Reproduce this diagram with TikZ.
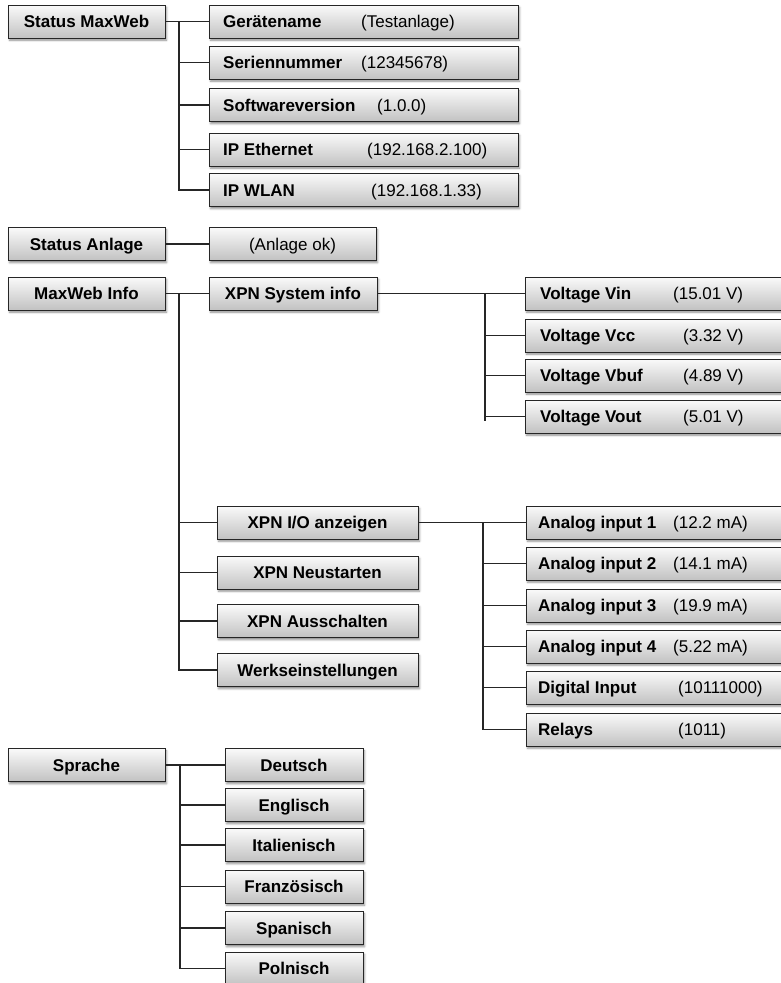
\documentclass[tikz,border=0pt]{standalone}
\usepackage{fontspec}
\setmainfont{Liberation Sans}
\usetikzlibrary{shadows,shadows.blur}
\tikzset{
  box/.style={draw=black!85, line width=0.9pt, top color=black!2, bottom color=black!24,
    blur shadow={shadow xshift=1.5pt, shadow yshift=-2.2pt, shadow blur radius=2pt, shadow opacity=45},
    minimum height=33pt, inner sep=0pt, text height=12.2pt, text depth=0pt,
    font=\bfseries\fontsize{17}{20}\selectfont},
  lbl/.style={anchor=base west, inner sep=0pt, font=\bfseries\fontsize{17}{20}\selectfont},
  val/.style={anchor=base west, inner sep=0pt, font=\fontsize{17}{20}\selectfont},
  conn/.style={draw=black!85, line width=1.2pt},
}
\begin{document}
\begin{tikzpicture}[x=1pt,y=-1pt]
\useasboundingbox (0,0) rectangle (781,983);
\clip (0,0) rectangle (781,983);

% left column
\node[box, minimum width=157pt] (sm) at (86.5,21.5) {Status MaxWeb};
\node[box, minimum width=157pt] (sa) at (86.5,244) {Status Anlage};
\node[box, minimum width=157pt] (mi) at (86.5,293.5) {MaxWeb Info};
\node[box, minimum width=157pt] (sp) at (86.5,765) {Sprache};

% Status MaxWeb children
\node[box, minimum width=309pt] (gn) at (363.5,21.5) {};
\node[box, minimum width=309pt] (sn) at (363.5,62.5) {};
\node[box, minimum width=309pt] (sw) at (363.5,105) {};
\node[box, minimum width=309pt] (ie) at (363.5,149.5) {};
\node[box, minimum width=309pt] (iw) at (363.5,190) {};
\node[lbl] (gnl) at (223,27.6) {Gerätename};
\node[val] (gnv) at (361,27.6) {(Testanlage)};
\node[lbl] (snl) at (223,68.6) {Seriennummer};
\node[val] (snv) at (361,68.6) {(12345678)};
\node[lbl] (swl) at (223,111.1) {Softwareversion};
\node[val] (swv) at (377,111.1) {(1.0.0)};
\node[lbl] (iel) at (223,155.6) {IP Ethernet};
\node[val] (iev) at (367,155.6) {(192.168.2.100)};
\node[lbl] (iwl) at (223,196.1) {IP WLAN};
\node[val] (iwv) at (371,196.1) {(192.168.1.33)};

% Status Anlage child
\node[box, minimum width=167pt, font=\fontsize{17}{20}\selectfont] (ao) at (292.5,244) {(Anlage ok)};

% MaxWeb Info children
\node[box, minimum width=168pt] (xs) at (293,293.5) {XPN System info};
\node[box, minimum width=201pt] (xio) at (317.5,522.5) {XPN I/O anzeigen};
\node[box, minimum width=201pt] (xn) at (317.5,572.5) {XPN Neustarten};
\node[box, minimum width=201pt] (xa) at (317.5,621) {XPN Ausschalten};
\node[box, minimum width=201pt] (xw) at (317.5,670) {Werkseinstellungen};

% Voltages
\node[box, minimum width=285pt] (vin) at (667.5,293.5) {};
\node[box, minimum width=285pt] (vcc) at (667.5,335.5) {};
\node[box, minimum width=285pt] (vbuf) at (667.5,375.5) {};
\node[box, minimum width=285pt] (vout) at (667.5,416.5) {};
\node[lbl] (vinl) at (540,299.6) {Voltage Vin};
\node[val] (vinv) at (673,299.6) {(15.01 V)};
\node[lbl] (vccl) at (540,341.6) {Voltage Vcc};
\node[val] (vccv) at (683,341.6) {(3.32 V)};
\node[lbl] (vbufl) at (540,381.6) {Voltage Vbuf};
\node[val] (vbufv) at (683,381.6) {(4.89 V)};
\node[lbl] (voutl) at (540,422.6) {Voltage Vout};
\node[val] (voutv) at (683,422.6) {(5.01 V)};

% I/O
\node[box, minimum width=284pt] (a1) at (668,522.5) {};
\node[box, minimum width=284pt] (a2) at (668,563.5) {};
\node[box, minimum width=284pt] (a3) at (668,605.5) {};
\node[box, minimum width=284pt] (a4) at (668,646.5) {};
\node[box, minimum width=284pt] (di) at (668,687.5) {};
\node[box, minimum width=284pt] (re) at (668,729.5) {};
\node[lbl] (a1l) at (538,528.6) {Analog input 1};
\node[val] (a1v) at (673,528.6) {(12.2 mA)};
\node[lbl] (a2l) at (538,569.6) {Analog input 2};
\node[val] (a2v) at (673,569.6) {(14.1 mA)};
\node[lbl] (a3l) at (538,611.6) {Analog input 3};
\node[val] (a3v) at (673,611.6) {(19.9 mA)};
\node[lbl] (a4l) at (538,652.6) {Analog input 4};
\node[val] (a4v) at (673,652.6) {(5.22 mA)};
\node[lbl] (dil) at (538,693.6) {Digital Input};
\node[val] (div) at (678,693.6) {(10111000)};
\node[lbl] (rel) at (538,735.6) {Relays};
\node[val] (rev) at (678,735.6) {(1011)};

% Sprache children
\node[box, minimum width=138pt] (de) at (294,765) {Deutsch};
\node[box, minimum width=138pt] (en) at (294,805) {Englisch};
\node[box, minimum width=138pt] (it) at (294,845) {Italienisch};
\node[box, minimum width=138pt] (fr) at (294,886.5) {Französisch};
\node[box, minimum width=138pt] (es) at (294,928) {Spanisch};
\node[box, minimum width=138pt] (pl) at (294,968.5) {Polnisch};

% connectors: Status MaxWeb
\coordinate (t1) at (179,21.5);
\draw[conn] (sm.east) -- (gn.west);
\draw[conn] (t1) |- (iw.west);
\draw[conn] (t1 |- sn.west) -- (sn.west);
\draw[conn] (t1 |- sw.west) -- (sw.west);
\draw[conn] (t1 |- ie.west) -- (ie.west);

% Status Anlage
\draw[conn] (sa.east) -- (ao.west);

% MaxWeb Info
\coordinate (t2) at (179,293.5);
\draw[conn] (mi.east) -- (xs.west);
\draw[conn] (t2) |- (xw.west);
\draw[conn] (t2 |- xio.west) -- (xio.west);
\draw[conn] (t2 |- xn.west) -- (xn.west);
\draw[conn] (t2 |- xa.west) -- (xa.west);

% XPN System info
\coordinate (t3) at (485,293.5);
\coordinate (t3e) at (485,421);
\draw[conn] (xs.east) -- (vin.west);
\draw[conn] (t3) -- (t3e);
\draw[conn] (t3 |- vcc.west) -- (vcc.west);
\draw[conn] (t3 |- vbuf.west) -- (vbuf.west);
\draw[conn] (t3 |- vout.west) -- (vout.west);

% XPN I/O
\coordinate (t4) at (483,522.5);
\draw[conn] (xio.east) -- (a1.west);
\draw[conn] (t4) |- (re.west);
\draw[conn] (t4 |- a2.west) -- (a2.west);
\draw[conn] (t4 |- a3.west) -- (a3.west);
\draw[conn] (t4 |- a4.west) -- (a4.west);
\draw[conn] (t4 |- di.west) -- (di.west);

% Sprache
\coordinate (t5) at (180,765);
\draw[conn] (sp.east) -- (de.west);
\draw[conn] (t5) |- (pl.west);
\draw[conn] (t5 |- en.west) -- (en.west);
\draw[conn] (t5 |- it.west) -- (it.west);
\draw[conn] (t5 |- fr.west) -- (fr.west);
\draw[conn] (t5 |- es.west) -- (es.west);
\end{tikzpicture}
\end{document}
